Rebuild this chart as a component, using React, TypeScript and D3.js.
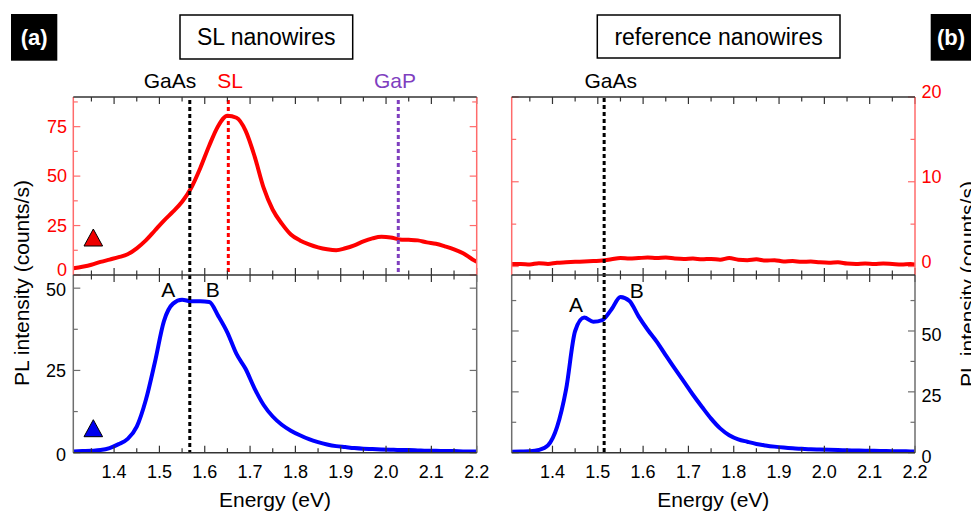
import React from "react";
import * as d3 from "d3";

// ---------- data ----------
const energy = [1.31, 1.33, 1.35, 1.37, 1.39, 1.41, 1.43, 1.45, 1.47, 1.49, 1.51, 1.53, 1.55, 1.57, 1.59, 1.61, 1.63, 1.65, 1.67, 1.69, 1.71, 1.73, 1.75, 1.77, 1.79, 1.81, 1.83, 1.85, 1.87, 1.89, 1.91, 1.93, 1.95, 1.97, 1.99, 2.01, 2.03, 2.05, 2.07, 2.09, 2.11, 2.13, 2.15, 2.17, 2.19, 2.2];

// SL nanowires, red excitation (top of panel a)
const slRed = [3.4, 4.2, 5.2, 6.6, 7.8, 9.0, 10.5, 13.5, 17.5, 22.5, 27.5, 32, 37, 44, 54, 65.5, 75.5, 80.5, 79.5, 73, 60, 44, 33, 26, 20.5, 17.5, 15.5, 14, 13, 12.5, 13.5, 15, 17, 18.5, 19.3, 19, 18, 17.8, 17.5, 16.5, 15.8, 14.5, 13, 11, 8, 6.7];
// SL nanowires, blue excitation (bottom of panel a)
const slBlue = [0.4, 0.5, 0.6, 0.8, 1.4, 2.6, 4.2, 7.9, 16, 27.5, 40, 45.3, 46.5, 46, 46, 45.8, 41.5, 36.5, 30, 25.5, 19.5, 14.5, 11, 8.5, 6.7, 5.3, 4.1, 3.2, 2.5, 2, 1.7, 1.4, 1.2, 1.1, 1.0, 0.9, 0.8, 0.8, 0.7, 0.6, 0.6, 0.5, 0.5, 0.4, 0.4, 0.4];
// reference nanowires, red excitation (top of panel b)
const refRed = [0.3, 0.3, 0.25, 0.4, 0.3, 0.45, 0.5, 0.55, 0.6, 0.65, 0.7, 0.85, 1.0, 0.95, 1.0, 1.05, 1.0, 1.05, 0.95, 0.9, 0.95, 0.85, 0.9, 0.8, 1.0, 0.8, 0.75, 0.85, 0.7, 0.75, 0.6, 0.65, 0.55, 0.6, 0.5, 0.45, 0.5, 0.35, 0.3, 0.35, 0.3, 0.35, 0.3, 0.25, 0.3, 0.25];
// reference nanowires, blue excitation (bottom of panel b)
const refBlue = [0.4, 0.5, 0.6, 1.1, 3.0, 10.5, 26, 50, 55.5, 53.8, 54.5, 58.8, 64, 62.3, 56, 50.5, 45.6, 40, 34.5, 29.2, 23.8, 18.8, 14, 10, 7.2, 5.5, 4.5, 3.6, 3.0, 2.5, 2.1, 1.8, 1.6, 1.4, 1.3, 1.2, 1.1, 1.0, 0.9, 0.8, 0.8, 0.7, 0.6, 0.6, 0.5, 0.5];

const xMajor = [1.4, 1.5, 1.6, 1.7, 1.8, 1.9, 2.0, 2.1, 2.2];
const xLabels = ["1.4", "1.5", "1.6", "1.7", "1.8", "1.9", "2.0", "2.1", "2.2"];
const xMinor = [1.35, 1.45, 1.55, 1.65, 1.75, 1.85, 1.95, 2.05, 2.15];

const aTopMajor = [0, 25, 50, 75];
const aTopMinor = [12.5, 37.5, 62.5, 87.5];
const aBotMajor = [0, 25, 50];
const aBotMinor = [12.5, 37.5];
const bTopMajor = [0, 10, 20];
const bTopMinor = [5, 15];
const bBotMajor = [0, 25, 50];
const bBotMinor = [12.5, 37.5, 62.5];

// reference energies for dashed markers
const gaAsA = 1.567;
const slLine = 1.652;
const gaPLine = 2.027;
const gaAsB = 1.514;

// ---------- layout ----------
const W = 971;
const H = 511;
const yTop = 97;
const yMid = 275;
const yBot = 452.7;
const FONT = "'Liberation Sans', Arial, Helvetica, sans-serif";
const RED = "#ff0000";
const RED_AX = "#ff6b6b";
const GRAY_AX = "#6e6e6e";
const DARK = "#333";
const BLUE = "#0000ff";
const PURPLE = "#7f3fbf";

const MAJ = 7;
const MIN = 4.5;

function XTicks({ x, y0, y1 }: any) {
  // top edge ticks down, middle divider both ways, bottom up
  const els: any[] = [];
  xMajor.forEach((v, i) => {
    const px = x(v);
    els.push(<line key={"tt" + i} x1={px} x2={px} y1={y0} y2={y0 + MAJ} stroke={DARK} strokeWidth={1.2} />);
    els.push(<line key={"tm" + i} x1={px} x2={px} y1={yMid - MAJ} y2={yMid + MAJ} stroke={DARK} strokeWidth={1.2} />);
    els.push(<line key={"tb" + i} x1={px} x2={px} y1={y1} y2={y1 - MAJ} stroke={DARK} strokeWidth={1.2} />);
  });
  xMinor.forEach((v, i) => {
    const px = x(v);
    els.push(<line key={"mt" + i} x1={px} x2={px} y1={y0} y2={y0 + MIN} stroke={DARK} strokeWidth={1.2} />);
    els.push(<line key={"mm" + i} x1={px} x2={px} y1={yMid - MIN} y2={yMid + MIN} stroke={DARK} strokeWidth={1.2} />);
    els.push(<line key={"mb" + i} x1={px} x2={px} y1={y1} y2={y1 - MIN} stroke={DARK} strokeWidth={1.2} />);
  });
  return <g>{els}</g>;
}

function YTicks({ y, xl, xr, major, minor, color }: any) {
  const els: any[] = [];
  major.forEach((v: number, i: number) => {
    const py = y(v);
    els.push(<line key={"l" + i} x1={xl} x2={xl + MAJ} y1={py} y2={py} stroke={color} strokeWidth={1.2} />);
    els.push(<line key={"r" + i} x1={xr} x2={xr - MAJ} y1={py} y2={py} stroke={color} strokeWidth={1.2} />);
  });
  minor.forEach((v: number, i: number) => {
    const py = y(v);
    els.push(<line key={"ml" + i} x1={xl} x2={xl + MIN} y1={py} y2={py} stroke={color} strokeWidth={1.2} />);
    els.push(<line key={"mr" + i} x1={xr} x2={xr - MIN} y1={py} y2={py} stroke={color} strokeWidth={1.2} />);
  });
  return <g>{els}</g>;
}

export default function App() {
  const xA = d3.scaleLinear().domain([1.31, 2.2]).range([73.3, 476.7]);
  const xB = d3.scaleLinear().domain([1.31, 2.2]).range([511.7, 915]);
  const yAT = d3.scaleLinear().domain([0, 90]).range([yMid, yTop]);
  const yAB = d3.scaleLinear().domain([0, 54]).range([yBot, yMid]);
  const yBT = d3.scaleLinear().domain([-1, 20]).range([yMid, yTop]);
  const yBB = d3.scaleLinear().domain([0, 73]).range([yBot, yMid]);

  const mk = (x: any, y: any, vals: number[]) =>
    d3
      .line<number>()
      .x((_, i) => x(energy[i]))
      .y((d) => y(d))
      .curve(d3.curveMonotoneX)(vals) || "";

  const aL = 73.3, aR = 476.7, bL = 511.7, bR = 915;

  const tri = (cx: number, by: number) =>
    `M${cx - 9.3},${by} L${cx + 9.3},${by} L${cx},${by - 17} Z`;

  return (
    <svg width={W} height={H} style={{ position: "absolute", left: 0, top: 0, background: "#fff" }} fontFamily={FONT}>
      <defs>
        <clipPath id="cAT"><rect x={aL} y={yTop} width={aR - aL} height={yMid - yTop} /></clipPath>
        <clipPath id="cAB"><rect x={aL} y={yMid} width={aR - aL} height={yBot - yMid} /></clipPath>
        <clipPath id="cBT"><rect x={bL} y={yTop} width={bR - bL} height={yMid - yTop} /></clipPath>
        <clipPath id="cBB"><rect x={bL} y={yMid} width={bR - bL} height={yBot - yMid} /></clipPath>
      </defs>

      {/* panel labels */}
      <rect x={11} y={14} width={46.3} height={46.7} fill="#000" />
      <text x={34.2} y={45} fill="#fff" fontSize={22} fontWeight="bold" textAnchor="middle">(a)</text>
      <rect x={930.7} y={14} width={50} height={46.7} fill="#000" />
      <text x={937} y={45} fill="#fff" fontSize={22} fontWeight="bold">(b)</text>

      {/* title boxes */}
      <rect x={180} y={15} width={172.7} height={44} fill="none" stroke="#000" strokeWidth={1.5} />
      <text x={266.3} y={45} fontSize={23} textAnchor="middle" fill="#000">SL nanowires</text>
      <rect x={597.3} y={15} width={242.7} height={43} fill="none" stroke="#000" strokeWidth={1.5} />
      <text x={718.6} y={45} fontSize={23} textAnchor="middle" fill="#000">reference nanowires</text>

      {/* annotations */}
      <text x={170} y={88} fontSize={21} textAnchor="middle" fill="#000">GaAs</text>
      <text x={230} y={88} fontSize={21} textAnchor="middle" fill={RED}>SL</text>
      <text x={395} y={88} fontSize={21} textAnchor="middle" fill={PURPLE}>GaP</text>
      <text x={610.7} y={88} fontSize={21} textAnchor="middle" fill="#000">GaAs</text>

      {/* curves */}
      <path d={mk(xA, yAT, slRed)} fill="none" stroke={RED} strokeWidth={4} clipPath="url(#cAT)" />
      <path d={mk(xA, yAB, slBlue)} fill="none" stroke={BLUE} strokeWidth={4} clipPath="url(#cAB)" />
      <path d={mk(xB, yBT, refRed)} fill="none" stroke={RED} strokeWidth={4} clipPath="url(#cBT)" />
      <path d={mk(xB, yBB, refBlue)} fill="none" stroke={BLUE} strokeWidth={4} clipPath="url(#cBB)" />

      {/* dashed markers */}
      <line x1={xA(gaAsA)} x2={xA(gaAsA)} y1={100} y2={yBot} stroke="#000" strokeWidth={3} strokeDasharray="4,3" />
      <line x1={xA(slLine)} x2={xA(slLine)} y1={100} y2={yMid} stroke={RED} strokeWidth={3} strokeDasharray="4,3" />
      <line x1={xA(gaPLine)} x2={xA(gaPLine)} y1={100} y2={yMid - 2} stroke={PURPLE} strokeWidth={3} strokeDasharray="4,3" />
      <line x1={xB(gaAsB)} x2={xB(gaAsB)} y1={98} y2={yBot} stroke="#000" strokeWidth={3} strokeDasharray="4,3" />

      {/* triangles */}
      <path d={tri(93.3, 246)} fill="#ee0000" stroke="#000" strokeWidth={1} />
      <path d={tri(93.3, 436.7)} fill="#0000ee" stroke="#000" strokeWidth={1} />

      {/* A / B labels */}
      <text x={168.3} y={289.3} dy="0.35em" fontSize={21} textAnchor="middle">A</text>
      <text x={212.7} y={289.3} dy="0.35em" fontSize={21} textAnchor="middle">B</text>
      <text x={576} y={305} dy="0.35em" fontSize={21} textAnchor="middle">A</text>
      <text x={636.7} y={290.7} dy="0.35em" fontSize={21} textAnchor="middle">B</text>

      {/* frames panel a */}
      <XTicks x={xA} y0={yTop} y1={yBot} />
      <YTicks y={yAT} xl={aL} xr={aR} major={aTopMajor} minor={aTopMinor} color={RED_AX} />
      <YTicks y={yAB} xl={aL} xr={aR} major={aBotMajor} minor={aBotMinor} color={GRAY_AX} />
      <line x1={aL} x2={aL} y1={yTop} y2={yMid} stroke={RED_AX} strokeWidth={1.5} />
      <line x1={aR} x2={aR} y1={yTop} y2={yMid} stroke={RED_AX} strokeWidth={1.5} />
      <line x1={aL} x2={aL} y1={yMid} y2={yBot} stroke={GRAY_AX} strokeWidth={1.5} />
      <line x1={aR} x2={aR} y1={yMid} y2={yBot} stroke={GRAY_AX} strokeWidth={1.5} />
      <line x1={aL} x2={aR} y1={yTop} y2={yTop} stroke={DARK} strokeWidth={1.5} />
      <line x1={aL} x2={aR} y1={yMid} y2={yMid} stroke={DARK} strokeWidth={1.5} />
      <line x1={aL} x2={aR} y1={yBot} y2={yBot} stroke={DARK} strokeWidth={1.5} />

      {/* frames panel b */}
      <XTicks x={xB} y0={yTop} y1={yBot} />
      <YTicks y={yBT} xl={bL} xr={bR} major={bTopMajor} minor={bTopMinor} color={RED_AX} />
      <YTicks y={yBB} xl={bL} xr={bR} major={bBotMajor} minor={bBotMinor} color={GRAY_AX} />
      <line x1={bL} x2={bL} y1={yTop} y2={yMid} stroke={RED_AX} strokeWidth={1.5} />
      <line x1={bR} x2={bR} y1={yTop} y2={yMid} stroke={RED_AX} strokeWidth={1.5} />
      <line x1={bL} x2={bL} y1={yMid} y2={yBot} stroke={GRAY_AX} strokeWidth={1.5} />
      <line x1={bR} x2={bR} y1={yMid} y2={yBot} stroke={GRAY_AX} strokeWidth={1.5} />
      <line x1={bL} x2={bR} y1={yTop} y2={yTop} stroke={DARK} strokeWidth={1.5} />
      <line x1={bL} x2={bR} y1={yMid} y2={yMid} stroke={DARK} strokeWidth={1.5} />
      <line x1={bL} x2={bR} y1={yBot} y2={yBot} stroke={DARK} strokeWidth={1.5} />

      {/* x tick labels */}
      {xMajor.map((v, i) => (
        <text key={"xa" + i} x={xA(v)} y={478} fontSize={18} textAnchor="middle" fill="#000">{xLabels[i]}</text>
      ))}
      {xMajor.map((v, i) => (
        <text key={"xb" + i} x={xB(v)} y={478} fontSize={18} textAnchor="middle" fill="#000">{xLabels[i]}</text>
      ))}

      {/* y tick labels panel a */}
      {aTopMajor.map((v, i) => (
        <text key={"ya" + i} x={67} y={yAT(v) - (v === 0 ? 5 : 0)} dy="0.35em" fontSize={18} textAnchor="end" fill={RED}>{String(v)}</text>
      ))}
      {aBotMajor.map((v, i) => (
        <text key={"yab" + i} x={66} y={yAB(v) + (v === 25 ? 0 : 2)} dy="0.35em" fontSize={18} textAnchor="end" fill="#000">{String(v)}</text>
      ))}
      {/* y tick labels panel b */}
      {bTopMajor.map((v, i) => (
        <text key={"yb" + i} x={921.5} y={yBT(v) - 5} dy="0.35em" fontSize={18} textAnchor="start" fill={RED}>{String(v)}</text>
      ))}
      {bBotMajor.map((v, i) => (
        <text key={"ybb" + i} x={921.5} y={yBB(v) + 4} dy="0.35em" fontSize={18} textAnchor="start" fill="#000">{String(v)}</text>
      ))}

      {/* axis titles */}
      <text x={275} y={507} fontSize={21} textAnchor="middle" fill="#000">Energy (eV)</text>
      <text x={713.3} y={507} fontSize={21} textAnchor="middle" fill="#000">Energy (eV)</text>
      <text transform="translate(29,283) rotate(-90)" fontSize={21} textAnchor="middle" fill="#000">PL intensity (counts/s)</text>
      <text transform="translate(975,284) rotate(-90)" fontSize={21} textAnchor="middle" fill="#000">PL intensity (counts/s)</text>
    </svg>
  );
}
